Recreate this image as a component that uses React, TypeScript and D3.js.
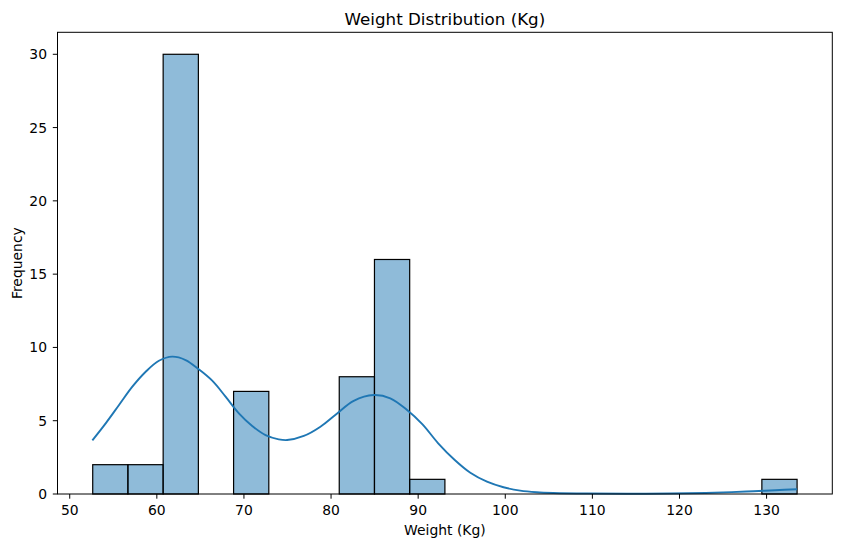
import React from "react";
import * as d3 from "d3";

const binMin = 52.64;
const binMax = 133.5;
const counts = [2, 2, 30, 0, 7, 0, 0, 8, 16, 1, 0, 0, 0, 0, 0, 0, 0, 0, 0, 1];

const kdeX = [52.6, 54.13, 55.66, 57.19, 58.72, 60.24, 61.77, 63.3, 64.83, 66.36, 67.89, 69.42, 70.95, 72.48, 74.0, 74.96, 76.87, 78.78, 80.7, 82.6, 84.9, 86.8, 88.73, 90.5, 92.3, 94.2, 95.99, 97.9, 99.8, 101.72, 103.6, 105.5, 109.4, 114, 119, 123, 126, 128.5, 131, 133.5];
const kdeY = [3.66, 4.82, 6.07, 7.32, 8.34, 9.09, 9.37, 9.14, 8.5, 7.73, 6.64, 5.5, 4.64, 4.02, 3.73, 3.68, 3.96, 4.59, 5.5, 6.36, 6.75, 6.53, 5.73, 4.75, 3.46, 2.32, 1.45, 0.84, 0.46, 0.23, 0.12, 0.07, 0.03, 0.02, 0.03, 0.07, 0.13, 0.19, 0.26, 0.32];

const xTicks = [50, 60, 70, 80, 90, 100, 110, 120, 130];
const yTicks = [0, 5, 10, 15, 20, 25, 30];

const W = 841, H = 547;
const L = 57.5, R = 832.3, T = 32.3, B = 494;
const font = "DejaVu Sans, sans-serif";

export default function App() {
  const range = binMax - binMin;
  const x = d3.scaleLinear().domain([binMin - 0.05 * range, binMax + 0.05 * range]).range([L, R]);
  const y = d3.scaleLinear().domain([0, 31.5]).range([B, T]);
  const bw = range / counts.length;
  const line = d3.line<number>().x((_, i) => x(kdeX[i])).y((d) => y(d)).curve(d3.curveCatmullRom.alpha(0.5));
  return (
    <svg width={W} height={H} style={{ position: "absolute", left: 0, top: 0, background: "#fff" }}>
      <rect x={0} y={0} width={W} height={H} fill="#fff" />
      {counts.map((c, i) =>
        c > 0 ? (
          <rect key={i} x={x(binMin + i * bw)} y={y(c)} width={x(binMin + (i + 1) * bw) - x(binMin + i * bw)} height={y(0) - y(c)}
            fill="rgba(31,119,180,0.5)" stroke="#000" strokeWidth={1.2} />
        ) : null
      )}
      <path d={line(kdeY) || ""} fill="none" stroke="#1f77b4" strokeWidth={1.9} strokeLinejoin="round" />
      <rect x={L} y={T} width={R - L} height={B - T} fill="none" stroke="#000" strokeWidth={1} />
      {xTicks.map((t) => (
        <g key={t}>
          <line x1={x(t)} x2={x(t)} y1={B} y2={B + 4.7} stroke="#000" strokeWidth={1} />
          <text x={x(t)} y={B + 21} textAnchor="middle" fontFamily={font} fontSize={13.9} fill="#000">{t}</text>
        </g>
      ))}
      {yTicks.map((t) => (
        <g key={t}>
          <line x1={L - 4.7} x2={L} y1={y(t)} y2={y(t)} stroke="#000" strokeWidth={1} />
          <text x={L - 10.5} y={y(t)} dy="0.36em" textAnchor="end" fontFamily={font} fontSize={13.9} fill="#000">{t}</text>
        </g>
      ))}
      <text x={(L + R) / 2} y={534.5} textAnchor="middle" fontFamily={font} fontSize={13.9} fill="#000">Weight (Kg)</text>
      <text transform={`translate(22,${(T + B) / 2}) rotate(-90)`} textAnchor="middle" fontFamily={font} fontSize={13.9} fill="#000">Frequency</text>
      <text x={(L + R) / 2} y={25} textAnchor="middle" fontFamily={font} fontSize={16.7} fill="#000">Weight Distribution (Kg)</text>
    </svg>
  );
}
